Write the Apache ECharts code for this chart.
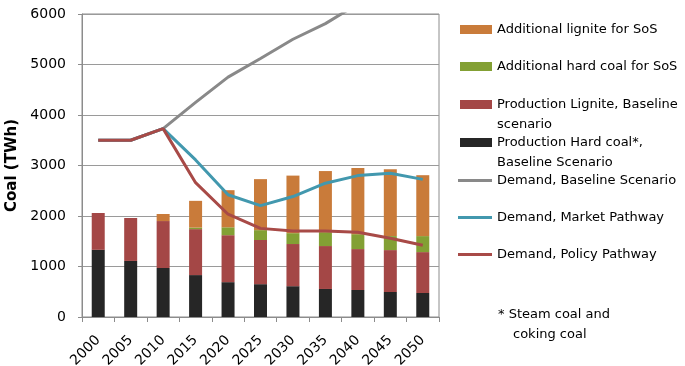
<!DOCTYPE html>
<html>
<head>
<meta charset="utf-8">
<script src="https://cdn.jsdelivr.net/npm/echarts@6/dist/echarts.min.js"></script>
<style>
  html, body { margin: 0; padding: 0; background: #fff; }
  #chart { width: 685px; height: 366px; }
</style>
</head>
<body>
<div id="chart"></div>
<script>
// Years on the category axis
const years = ['2000', '2005', '2010', '2015', '2020', '2025', '2030', '2035', '2040', '2045', '2050'];

// Stacked supply (TWh)
const hardCoalBaseline = [1330, 1110, 970, 830, 690, 650, 610, 555, 535, 495, 475];
const ligniteBaseline  = [730, 850, 930, 910, 930, 875, 835, 850, 810, 830, 810];
const extraHardCoalSoS = [0, 0, 0, 30, 156, 195, 215, 275, 295, 277, 317];
const extraLigniteSoS  = [0, 0, 140, 530, 735, 1010, 1140, 1210, 1310, 1326, 1206];

// Demand paths (TWh); the baseline runs past the top of the axis after 2035
const demandBaseline = [3500, 3500, 3730, 4250, 4750, 5120, 5500, 5810, 6200, 6550, 6900];
const demandMarket   = [3500, 3500, 3730, 3110, 2420, 2205, 2385, 2650, 2800, 2845, 2725];
const demandPolicy   = [3500, 3500, 3730, 2660, 2035, 1755, 1705, 1705, 1680, 1560, 1420];

// Y-axis ticks
const yTicks = { min: 0, max: 6000, interval: 1000 };

const FONT = 'DejaVu Sans';
const names = {
  orange: 'Additional lignite for SoS',
  green: 'Additional hard coal for SoS',
  lignite: 'Production Lignite, Baseline\nscenario',
  hard: 'Production Hard coal*,\nBaseline Scenario',
  gray: 'Demand, Baseline Scenario',
  blue: 'Demand, Market Pathway',
  red: 'Demand, Policy Pathway'
};
const colors = {
  orange: '#C97B3A', green: '#83A034', lignite: '#A44746', hard: '#262626',
  gray: '#898989', blue: '#4298AE', red: '#A84A47'
};

const chart = echarts.init(document.getElementById('chart'));

function bar(key, data) {
  return {
    name: names[key], type: 'bar', stack: 'supply', data: data,
    barWidth: 13, itemStyle: { color: colors[key] }, z: 2
  };
}
function line(key, data) {
  return {
    name: names[key], type: 'line', data: data, symbol: 'none',
    lineStyle: { width: 3, color: colors[key] }, itemStyle: { color: colors[key] },
    clip: true, z: 3
  };
}

// One legend entry per series, placed down the right-hand side
function legendItem(key, centerY, isLine) {
  return {
    data: [names[key]],
    left: isLine ? 458 : 460,
    top: centerY - 6,
    padding: 0,
    icon: 'rect',
    itemWidth: isLine ? 34 : 32,
    itemHeight: isLine ? 3 : 9,
    selectedMode: false,
    formatter: n => n.split('\n')[0],
    textStyle: { fontFamily: FONT, fontSize: 13, color: '#000' }
  };
}
const noteFont = '13px "DejaVu Sans"';

const option = {
  animation: false,
  backgroundColor: '#fff',
  grid: {
    left: 82, right: 246, top: 14, bottom: 49,
    outerBoundsMode: 'none',
    show: true, borderColor: '#8c8c8c', borderWidth: 1
  },
  legend: [
    legendItem('orange', 29, false),
    legendItem('green', 66, false),
    legendItem('lignite', 104, false),
    legendItem('hard', 142, false),
    legendItem('gray', 180, true),
    legendItem('blue', 217, true),
    legendItem('red', 254, true)
  ],
  graphic: [
    { type: 'text', left: 497, top: 118, style: { text: 'scenario', font: noteFont, fill: '#000' } },
    { type: 'text', left: 497, top: 156, style: { text: 'Baseline Scenario', font: noteFont, fill: '#000' } },
    { type: 'text', left: 498, top: 308, style: { text: '* Steam coal and', font: noteFont, fill: '#000' } },
    { type: 'text', left: 513, top: 328, style: { text: 'coking coal', font: noteFont, fill: '#000' } }
  ],
  xAxis: {
    type: 'category', data: years, boundaryGap: true,
    axisLine: { lineStyle: { color: '#8c8c8c', width: 1 } },
    axisTick: { show: true, alignWithLabel: false, length: 5, lineStyle: { color: '#8c8c8c' } },
    axisLabel: { rotate: 45, fontFamily: FONT, fontSize: 14, color: '#000', margin: 21 }
  },
  yAxis: {
    type: 'value', min: yTicks.min, max: yTicks.max, interval: yTicks.interval,
    name: 'Coal (TWh)', nameLocation: 'middle', nameGap: 54,
    nameTextStyle: { fontFamily: FONT, fontSize: 15, fontWeight: 'bold', color: '#000' },
    axisLine: { show: true, lineStyle: { color: '#8c8c8c', width: 1 } },
    axisTick: { show: true, length: 4, lineStyle: { color: '#8c8c8c' } },
    axisLabel: { fontFamily: FONT, fontSize: 14, color: '#000', margin: 16, formatter: v => String(v) },
    splitLine: { show: true, lineStyle: { color: '#9a9a9a', width: 1 } }
  },
  series: [
    bar('hard', hardCoalBaseline),
    bar('lignite', ligniteBaseline),
    bar('green', extraHardCoalSoS),
    bar('orange', extraLigniteSoS),
    line('gray', demandBaseline),
    line('blue', demandMarket),
    line('red', demandPolicy)
  ]
};

chart.setOption(option);
</script>
</body>
</html>
